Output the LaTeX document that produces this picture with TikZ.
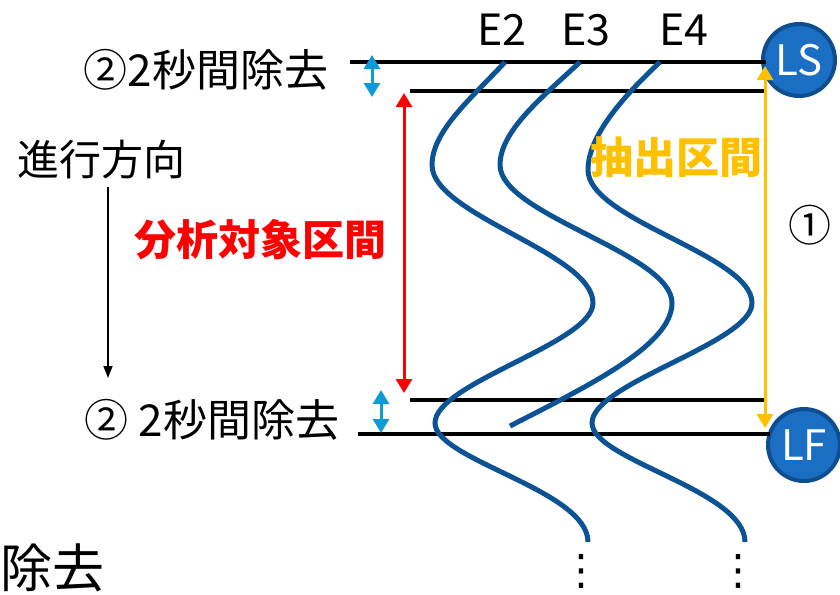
\documentclass[tikz,border=0pt]{standalone}
\usepackage{fontspec}
\setmainfont{Noto Sans CJK JP}
\newfontfamily\symfont{DejaVu Sans}
\usetikzlibrary{arrows.meta}
\definecolor{wave}{HTML}{0B5394}
\definecolor{cyanarr}{HTML}{0E9AD7}
\definecolor{redarr}{HTML}{FF0000}
\definecolor{orangearr}{HTML}{FFC000}
\definecolor{circfill}{HTML}{1A6EC4}
\definecolor{circdraw}{HTML}{0E4E8E}
\tikzset{
  wavestyle/.style={draw=wave,line width=5pt},
  hline/.style={draw=black,line width=4pt},
  lbl/.style={inner sep=0pt,font=\fontsize{43}{50}\selectfont},
  circ/.style={circle,fill=circfill,draw=circdraw,line width=4pt,minimum size=72pt,inner sep=0pt,text=white,font=\fontsize{42}{48}\selectfont},
  dbl/.style={line width=3pt,{Triangle[length=14pt,width=16pt]}-{Triangle[length=14pt,width=16pt]}},
  vdots/.style={inner sep=0pt,font=\symfont\fontsize{42}{48}\selectfont},
}
\begin{document}
\begin{tikzpicture}[x=1pt,y=-1pt]
\useasboundingbox (0,0) rectangle (840,594);
% circles
\node[circ] (LS) at (799,60) {LS};
\node[circ] (LF) at (804,445) {LF};
% horizontal lines
\coordinate (L1a) at (350,62); \coordinate (L1b) at (766,62);
\coordinate (L2a) at (410,91); \coordinate (L2b) at (766,91);
\coordinate (L3a) at (410,400); \coordinate (L3b) at (766,400);
\coordinate (L4a) at (358,434); \coordinate (L4b) at (770,434);
\draw[hline] (L1a) -- (L1b);
\draw[hline] (L2a) -- (L2b);
\draw[hline] (L3a) -- (L3b);
\draw[hline] (L4a) -- (L4b);
% waves
\draw[wavestyle] (505,62) .. controls (475,95) and (432,130) .. (432,165)
  .. controls (432,215) and (593,253) .. (593,303)
  .. controls (593,343) and (435,383) .. (435,423)
  .. controls (435,460) and (588,490) .. (588,542);
\draw[wavestyle] (580,62) .. controls (545,95) and (500,130) .. (500,165)
  .. controls (500,215) and (672,253) .. (672,303)
  .. controls (672,345) and (590,385) .. (510,426);
\draw[wavestyle] (660,62) .. controls (625,95) and (588,135) .. (588,170)
  .. controls (588,220) and (752,255) .. (752,303)
  .. controls (752,343) and (592,383) .. (592,423)
  .. controls (592,460) and (745,490) .. (745,542);
% arrows
\coordinate (B1a) at (372,55); \coordinate (B1b) at (372,97);
\draw[dbl,cyanarr] (B1a) -- (B1b);
\coordinate (B2a) at (381,390); \coordinate (B2b) at (381,433);
\draw[dbl,cyanarr] (B2a) -- (B2b);
\coordinate (Ra) at (404,93); \coordinate (Rb) at (404,393);
\draw[dbl,redarr] (Ra) -- (Rb);
\coordinate (Oa) at (765,66); \coordinate (Ob) at (765,428);
\draw[dbl,orangearr] (Oa) -- (Ob);
% labels
\node[lbl] (E2) at (502,30) {E2};
\node[lbl] (E3) at (586,30) {E3};
\node[lbl] (E4) at (684,30) {E4};
\node[lbl,font=\fontsize{44}{50}\selectfont] (rm1) at (206,70) {②2秒間除去};
\node[lbl,font=\fontsize{44}{50}\selectfont] (rm2) at (212,420) {② 2秒間除去};
\node[lbl,font=\fontsize{42}{50}\selectfont] (dir) at (101,160) {進行方向};
\coordinate (Da) at (108,187); \coordinate (Db) at (108,378);
\draw[line width=1.5pt,-{Triangle[length=12pt,width=9pt]}] (Da) -- (Db);
\node[lbl,text=redarr,font=\bfseries\fontsize{42}{50}\selectfont] (ana) at (260,240) {分析対象区間};
\node[lbl,text=orangearr,font=\bfseries\fontsize{43}{50}\selectfont] (ext) at (676,157) {抽出区間};
\node[lbl] (one) at (810,225) {①};
\node[lbl,font=\fontsize{52}{60}\selectfont] (rm3) at (53,568) {除去};
\node[vdots] (d1) at (581,571) {⋮};
\node[vdots] (d2) at (738,571) {⋮};
\end{tikzpicture}
\end{document}
